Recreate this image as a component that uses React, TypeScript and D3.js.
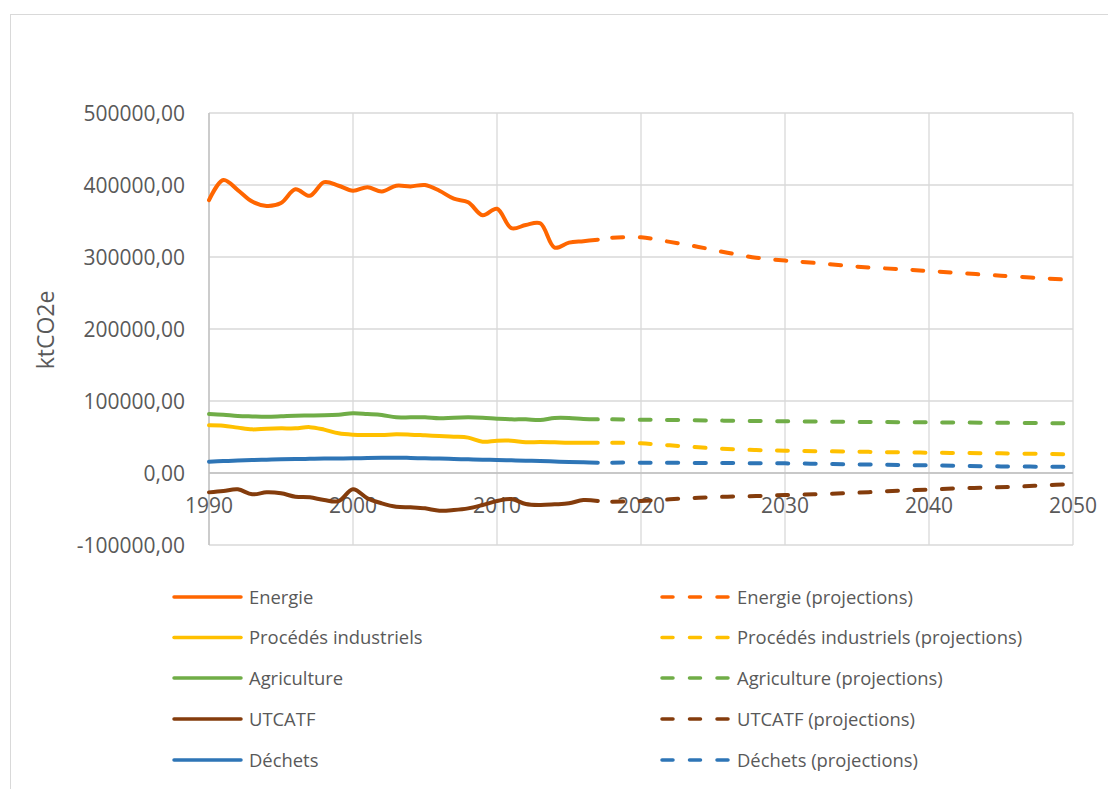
import React from "react";
import * as d3 from "d3";

// ---------- DATA (ktCO2e, values in thousands) ----------
const histYears = d3.range(1990, 2018);
const energie = [379, 407, 393, 377, 371, 375, 394, 385, 404, 399, 392, 397, 391, 399, 398, 400, 392, 381, 376, 358, 367, 340, 344.4, 346.8, 313, 320, 322, 324];
const procedes = [66.2, 65.7, 63.0, 60.6, 61.6, 62.0, 62.0, 63.7, 60.2, 55.1, 53.2, 52.8, 52.8, 53.7, 53.2, 52.3, 51.4, 50.5, 49.1, 43.5, 44.9, 44.9, 42.6, 43.1, 42.6, 42.1, 42.1, 42.1];
const agriculture = [81.9, 80.8, 79.2, 78.6, 78.2, 78.8, 79.6, 79.8, 80.1, 81.0, 82.9, 81.9, 80.6, 77.3, 77.3, 77.3, 75.9, 76.9, 77.3, 76.9, 75.5, 74.5, 74.5, 73.6, 76.4, 76.4, 75.0, 74.5];
const utcatf = [-26.9, -25.0, -22.7, -29.6, -26.9, -28.2, -32.9, -33.8, -37.5, -39.0, -22.7, -35.2, -42.1, -46.8, -47.7, -49.1, -52.3, -51.4, -49.1, -44.4, -38.9, -36.1, -43.1, -44.4, -43.5, -42.1, -37.5, -38.9];
const dechets = [15.7, 16.5, 17.3, 18.0, 18.5, 19.0, 19.4, 19.7, 20.0, 20.2, 20.4, 20.8, 21.1, 21.3, 20.9, 20.4, 20.0, 19.5, 19.0, 18.5, 18.1, 17.6, 17.1, 16.7, 16.0, 15.3, 14.8, 14.4];

const energieProjYears = [2018, 2020, 2022, 2024, 2026, 2028, 2030, 2032, 2035, 2038, 2040, 2045, 2050];
const energieProj = [326.9, 327.3, 321, 314, 306, 299, 295, 292, 286.6, 283, 280.5, 274, 268];
const procedesProjYears = [2018, 2020, 2022, 2024, 2026, 2028, 2030, 2035, 2040, 2045, 2050];
const procedesProj = [42.1, 41.2, 38.4, 35.6, 33.3, 31.9, 31.0, 29.6, 28.2, 27.3, 25.9];
const agricultureProjYears = [2018, 2020, 2025, 2030, 2035, 2040, 2045, 2050];
const agricultureProj = [74.5, 74.1, 72.9, 71.8, 71.0, 70.4, 69.7, 69.0];
const utcatfProjYears = [2018, 2020, 2022, 2024, 2026, 2028, 2030, 2032, 2034, 2036, 2038, 2040, 2042, 2044, 2046, 2048, 2050];
const utcatfProj = [-39.8, -38.9, -36.6, -34.3, -32.9, -32.0, -30.6, -29.6, -28.2, -26.4, -24.5, -23.1, -21.3, -20.4, -19.0, -17.1, -15.3];
const dechetsProjYears = [2018, 2020, 2025, 2030, 2035, 2040, 2045, 2050];
const dechetsProj = [14.4, 14.4, 13.9, 13.4, 12.0, 10.6, 9.2, 8.5];

const yTicks = [-100000, 0, 100000, 200000, 300000, 400000, 500000];
const xTicks = [1990, 2000, 2010, 2020, 2030, 2040, 2050];
const yTitle = "ktCO2e";

const seriesNames = ["Energie", "Procédés industriels", "Agriculture", "UTCATF", "Déchets"];
const seriesColors = ["#FF6600", "#FFC000", "#70AD47", "#843C0C", "#2E75B6"];
const histValues = [energie, procedes, agriculture, utcatf, dechets];
const projYears = [energieProjYears, procedesProjYears, agricultureProjYears, utcatfProjYears, dechetsProjYears];
const projValues = [energieProj, procedesProj, agricultureProj, utcatfProj, dechetsProj];

// ---------- LAYOUT ----------
const W = 1108;
const H = 789;
const plot = { left: 209, right: 1073, top: 113, bottom: 545 };
const FONT = "'Open Sans', 'Noto Sans', sans-serif";
const TEXT = "#595959";

export default function App() {
  const x = d3.scaleLinear().domain([1990, 2050]).range([plot.left, plot.right]);
  const y = d3.scaleLinear().domain([-100000, 500000]).range([plot.bottom, plot.top]);
  const line = d3
    .line<[number, number]>()
    .x((d) => x(d[0]))
    .y((d) => y(d[1] * 1000))
    .curve(d3.curveCatmullRom.alpha(0.5));

  const fmt = (v: number) => (v < 0 ? "-" : "") + Math.abs(v).toFixed(2).replace(".", ",");

  const legendRows = [597, 637.5, 678, 719, 760];

  return (
    <svg
      width={W}
      height={H}
      style={{ position: "absolute", left: 0, top: 0, background: "#fff" }}
      fontFamily={FONT}
    >
      <rect x={0} y={0} width={W} height={H} fill="#fff" />
      <rect x={10.5} y={14.5} width={1300} height={900} fill="none" stroke="#d9d9d9" strokeWidth={1} />

      {/* horizontal gridlines */}
      {yTicks.map((t) => (
        <line key={"h" + t} x1={plot.left} x2={plot.right} y1={y(t)} y2={y(t)} stroke="#d9d9d9" strokeWidth={1.3} />
      ))}
      {/* vertical gridlines */}
      {xTicks.map((t) => (
        <line key={"v" + t} x1={x(t)} x2={x(t)} y1={plot.top} y2={plot.bottom} stroke="#d9d9d9" strokeWidth={1.3} />
      ))}
      {/* axis lines */}
      <line x1={plot.left} x2={plot.left} y1={plot.top} y2={plot.bottom} stroke="#bfbfbf" strokeWidth={1.3} />
      <line x1={plot.left} x2={plot.right} y1={y(0)} y2={y(0)} stroke="#bfbfbf" strokeWidth={1.3} />

      {/* y tick labels */}
      {yTicks.map((t) => (
        <text key={"yl" + t} x={185} y={y(t)} dy="0.36em" textAnchor="end" fontSize={21} fill={TEXT}>
          {fmt(t)}
        </text>
      ))}
      {/* x tick labels */}
      {xTicks.map((t) => (
        <text key={"xl" + t} x={x(t)} y={513} textAnchor="middle" fontSize={21} fill={TEXT}>
          {t}
        </text>
      ))}
      {/* y title */}
      <text
        transform={`translate(54,330) rotate(-90)`}
        textAnchor="middle"
        fontSize={23}
        fill={TEXT}
      >
        {yTitle}
      </text>

      {/* series */}
      {histValues.map((vals, i) => (
        <path
          key={"hist" + i}
          d={line(histYears.map((yr, j) => [yr, vals[j]] as [number, number])) || ""}
          fill="none"
          stroke={seriesColors[i]}
          strokeWidth={4}
          strokeLinecap="round"
          strokeLinejoin="round"
        />
      ))}
      {projValues.map((vals, i) => (
        <path
          key={"proj" + i}
          d={line(projYears[i].map((yr, j) => [yr, vals[j]] as [number, number])) || ""}
          fill="none"
          stroke={seriesColors[i]}
          strokeWidth={4}
          strokeLinecap="round"
          strokeDasharray="11 16.5"
        />
      ))}

      {/* legend */}
      {seriesNames.map((name, i) => (
        <g key={"lg" + i}>
          <line x1={174} x2={241} y1={legendRows[i]} y2={legendRows[i]} stroke={seriesColors[i]} strokeWidth={3.5} strokeLinecap="round" />
          <text x={249} y={legendRows[i]} dy="0.36em" fontSize={18.4} fill={TEXT}>
            {name}
          </text>
          <line
            x1={662}
            x2={728}
            y1={legendRows[i]}
            y2={legendRows[i]}
            stroke={seriesColors[i]}
            strokeWidth={3.5}
            strokeLinecap="round"
            strokeDasharray="11 16.5"
          />
          <text x={737} y={legendRows[i]} dy="0.36em" fontSize={18.4} fill={TEXT}>
            {name + " (projections)"}
          </text>
        </g>
      ))}
    </svg>
  );
}
